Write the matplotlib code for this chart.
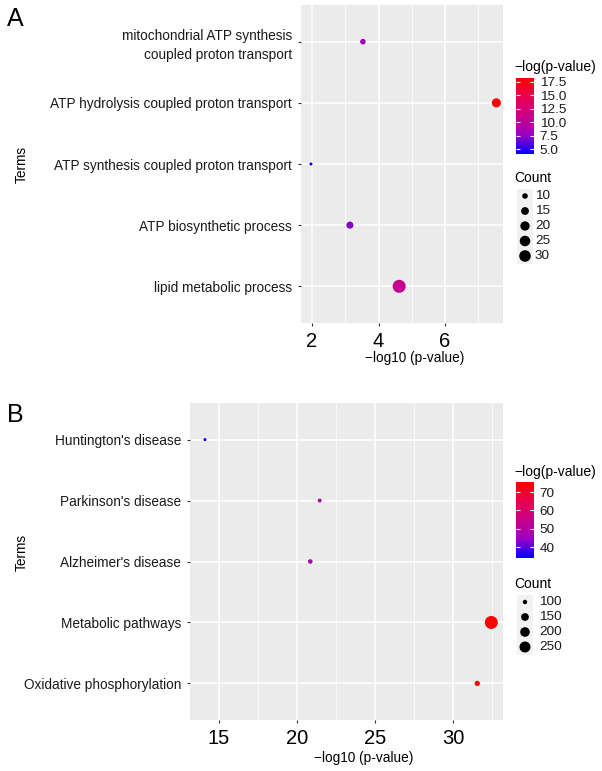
import numpy as np
import matplotlib
matplotlib.use('Agg')
import matplotlib.pyplot as plt
from matplotlib.colors import LinearSegmentedColormap, Normalize
from matplotlib.cm import ScalarMappable

plt.rcParams['font.family'] = ['Liberation Sans', 'DejaVu Sans']

# panel A: GO terms
go_terms = ['mitochondrial ATP synthesis\ncoupled proton transport',
            'ATP hydrolysis coupled proton transport',
            'ATP synthesis coupled proton transport',
            'ATP biosynthetic process',
            'lipid metabolic process']
go_log10p = [3.53, 7.54, 1.97, 3.14, 4.62]
go_lnp = [8.1, 18.2, 4.1, 7.2, 10.6]
go_count = [10, 19, 8, 13, 38]
go_xticks = [2, 4, 6]
go_color_ticks = [5.0, 7.5, 10.0, 12.5, 15.0, 17.5]
go_count_breaks = [10, 15, 20, 25, 30]

# panel B: KEGG pathways
kegg_terms = ["Huntington's disease", "Parkinson's disease", "Alzheimer's disease",
              'Metabolic pathways', 'Oxidative phosphorylation']
kegg_log10p = [14.1, 21.45, 20.85, 32.45, 31.55]
kegg_lnp = [34.0, 49.4, 48.0, 75.5, 72.6]
kegg_count = [95, 97, 101, 337, 108]
kegg_xticks = [15, 20, 25, 30]
kegg_color_ticks = [40, 50, 60, 70]
kegg_count_breaks = [100, 150, 200, 250]

# ggplot-like blue -> red gradient (Lab interpolation)
cmap = LinearSegmentedColormap.from_list(
    'bluered', [(0, '#0000FF'), (0.25, '#9A00C2'), (0.5, '#CA0089'), (0.75, '#E80050'), (1, '#FF0000')])

W, H = 602, 771
fig = plt.figure(figsize=(W / 100, H / 100), dpi=100)


def px_axes(x0, y0, x1, y1):
    return fig.add_axes([x0 / W, 1 - y1 / H, (x1 - x0) / W, (y1 - y0) / H])


def marker_size(v, counts):
    m, M = min(counts), max(counts)
    d = 3 + 10 * np.sqrt((np.asarray(v, dtype=float) - m) / (M - m))
    return (d * 0.72) ** 2


def panel(box, terms, xvals, cvals, counts, xlim, xticks, cticks, cfmt, breaks,
          letter, letter_y, terms_y, xlab_pos, leg):
    ax = px_axes(*box)
    ax.set_facecolor('#EBEBEB')
    y = np.arange(len(terms))
    ax.set_xlim(xlim)
    ax.set_ylim(len(terms) - 0.4, -0.6)
    ax.set_xticks(xticks)
    step = xticks[1] - xticks[0]
    minor = [t + step / 2 for t in [xticks[0] - step] + xticks]
    ax.set_xticks([t for t in minor if xlim[0] < t < xlim[1]], minor=True)
    ax.set_yticks(y)
    ax.set_yticklabels(terms, color='#1a1a1a', fontsize=9.8, linespacing=1.45)
    ax.grid(True, which='major', color='white', lw=1.1)
    ax.grid(True, which='minor', axis='x', color='white', lw=0.55)
    ax.set_axisbelow(True)
    for sp in ax.spines.values():
        sp.set_visible(False)
    ax.tick_params(axis='x', which='major', length=2.5, width=0.8, color='#333333',
                   labelsize=14.5, labelcolor='black', pad=4)
    ax.tick_params(axis='x', which='minor', length=0)
    ax.tick_params(axis='y', length=2.5, width=0.8, color='#333333', pad=4)

    norm = Normalize(min(cvals), max(cvals))
    ax.scatter(xvals, y, s=marker_size(counts, counts), c=cvals, cmap=cmap, norm=norm,
               linewidths=0, zorder=3)

    fig.text(15 / W, 1 - letter_y / H, letter, fontsize=18, ha='center', va='center')
    fig.text(22 / W, 1 - terms_y / H, 'Terms', fontsize=9.8, rotation=90, ha='center', va='center')
    fig.text(xlab_pos[0] / W, 1 - xlab_pos[1] / H, '\u2212log10 (p-value)', fontsize=9.8,
             ha='center', va='center')

    # colour bar
    fig.text(514 / W, 1 - leg['ctitle'] / H, '\u2212log(p-value)', fontsize=10, ha='left', va='center')
    cax = px_axes(516, leg['cbar'][0], 534, leg['cbar'][1])
    cb = fig.colorbar(ScalarMappable(norm=norm, cmap=cmap), cax=cax, ticks=cticks, format=cfmt)
    cb.outline.set_visible(False)
    cax.tick_params(left=True, right=True, labelleft=False, labelright=True, direction='in',
                    color='white', length=3, width=0.8, labelsize=9.7, labelcolor='#1a1a1a', pad=4)

    # size legend
    fig.text(514 / W, 1 - leg['stitle'] / H, 'Count', fontsize=10, ha='left', va='center')
    n = len(breaks)
    top = leg['keys'] - 7.5
    lax = px_axes(517, top, 533, top + 15 * n)
    lax.set_facecolor('#F2F2F2')
    for sp in lax.spines.values():
        sp.set_visible(False)
    lax.set_xticks([])
    lax.set_yticks([])
    lax.set_xlim(-0.5, 0.5)
    lax.set_ylim(n - 0.5, -0.5)
    lax.scatter(np.zeros(n), np.arange(n), s=marker_size(breaks, counts), c='black', linewidths=0)
    for i, b in enumerate(breaks):
        fig.text(leg['labx'] / W, 1 - (leg['keys'] + 15 * i) / H, str(b), fontsize=9.7,
                 ha='left', va='center', color='#1a1a1a')


panel((301, 5, 503, 323), go_terms, go_log10p, go_lnp, go_count, (1.67, 7.74), go_xticks,
      go_color_ticks, '%.1f', go_count_breaks, 'A', 19, 164, (415, 358),
      dict(ctitle=67, cbar=(78, 154), stitle=178, keys=196, labx=535))

panel((190, 403, 503, 720), kegg_terms, kegg_log10p, kegg_lnp, kegg_count, (13.14, 33.2), kegg_xticks,
      kegg_color_ticks, '%d', kegg_count_breaks, 'B', 415, 552, (364, 758),
      dict(ctitle=472, cbar=(482, 558), stitle=584, keys=602, labx=539))

fig.savefig('out.png', dpi=100)
